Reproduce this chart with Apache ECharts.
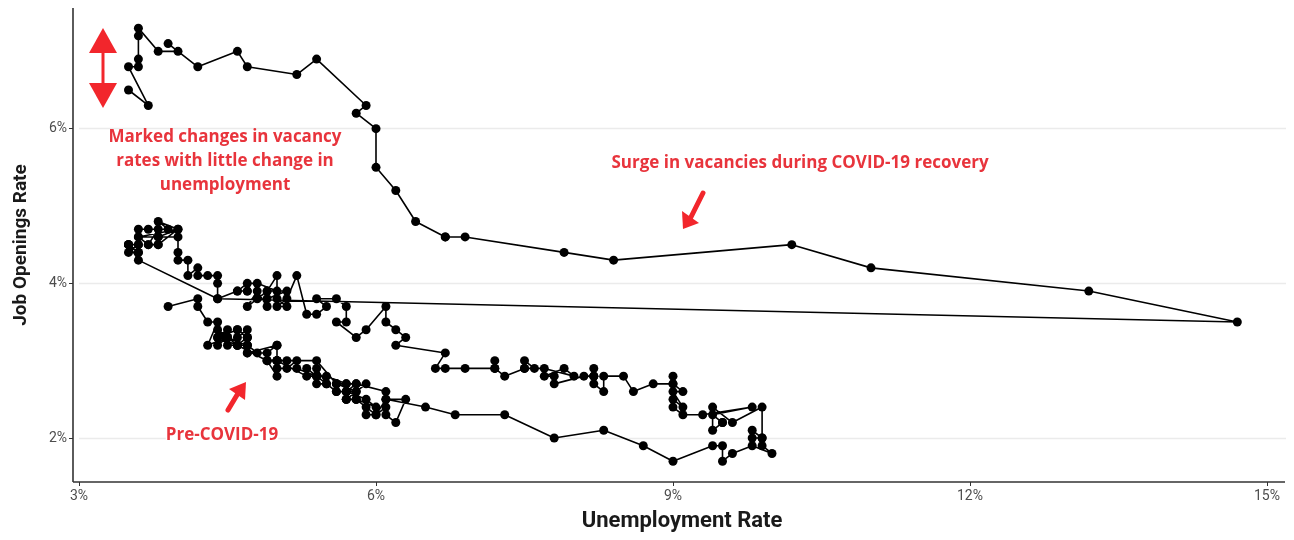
<!DOCTYPE html>
<html><head><meta charset="utf-8">
<script src="https://cdn.jsdelivr.net/npm/echarts@6/dist/echarts.min.js"></script>
<style>html,body{margin:0;padding:0;background:#fff}#c{width:1294px;height:540px}</style>
</head><body><div id="c"></div>
<script>
// Monthly points, Dec 2000 onward (unemployment rate %, job openings rate %)
const unemploymentRate = [
  3.9,
  4.2,4.2,4.3,4.4,4.3,4.5,4.6,4.9,5.0,5.3,5.5,5.7,
  5.7,5.7,5.7,5.9,5.8,5.8,5.8,5.7,5.7,5.7,5.9,6.0,
  5.8,5.9,5.9,6.0,6.1,6.3,6.2,6.1,6.1,6.0,5.8,5.7,
  5.7,5.6,5.8,5.6,5.6,5.6,5.5,5.4,5.4,5.5,5.4,5.4,
  5.3,5.4,5.2,5.2,5.1,5.0,5.0,4.9,5.0,5.0,5.0,4.9,
  4.7,4.8,4.7,4.7,4.6,4.6,4.7,4.7,4.5,4.4,4.5,4.4,
  4.6,4.5,4.4,4.5,4.4,4.6,4.7,4.6,4.7,4.7,4.7,5.0,
  5.0,4.9,5.1,5.0,5.4,5.6,5.8,6.1,6.1,6.5,6.8,7.3,
  7.8,8.3,8.7,9.0,9.4,9.5,9.5,9.6,9.8,10.0,9.9,9.9,
  9.8,9.8,9.9,9.9,9.6,9.4,9.4,9.5,9.5,9.4,9.8,9.3,
  9.1,9.0,9.0,9.1,9.0,9.1,9.0,9.0,9.0,8.8,8.6,8.5,
  8.3,8.3,8.2,8.2,8.2,8.2,8.2,8.1,7.8,7.8,7.7,7.9,
  8.0,7.7,7.5,7.6,7.5,7.5,7.3,7.2,7.2,7.2,6.9,6.7,
  6.6,6.7,6.2,6.3,6.2,6.1,6.1,5.9,5.8,5.6,5.7,5.7,
  5.6,5.4,5.5,5.4,5.3,5.2,5.1,5.0,5.1,5.0,5.0,4.9,
  5.1,4.9,4.9,4.8,4.7,4.8,4.9,5.0,4.8,4.7,4.6,4.7,
  4.7,4.6,4.4,4.4,4.4,4.3,4.2,4.2,4.1,4.1,4.0,4.0,
  4.0,3.8,3.8,3.7,3.8,3.6,3.7,3.9,3.8,4.0,3.6,3.8,
  4.0,3.8,3.7,3.6,3.6,3.5,3.6,3.5,3.6,3.5,3.6,3.5,
  3.5,3.6,4.4,14.7,13.2,11.0,10.2,8.4,7.9,6.9,6.7,6.7,
  6.4,6.2,6.0,6.0,5.8,5.9,5.4,5.2,4.7,4.6,4.2,3.9,
  4.0,3.8,3.6,3.6,3.6,3.6,3.5,3.7,3.5
];
const jobOpeningsRate = [
  3.7,
  3.8,3.7,3.5,3.5,3.2,3.3,3.2,3.0,3.0,2.8,2.8,2.7,
  2.6,2.7,2.5,2.7,2.6,2.5,2.7,2.6,2.5,2.6,2.5,2.4,
  2.5,2.4,2.3,2.3,2.5,2.5,2.2,2.3,2.4,2.3,2.5,2.5,
  2.6,2.6,2.6,2.7,2.7,2.6,2.7,2.7,2.8,2.7,2.9,2.8,
  2.9,2.8,2.9,3.0,2.9,2.9,3.0,3.0,2.8,3.0,3.2,3.1,
  3.1,3.1,3.2,3.4,3.3,3.4,3.3,3.2,3.3,3.2,3.4,3.3,
  3.2,3.2,3.4,3.3,3.3,3.4,3.3,3.2,3.2,3.3,3.1,3.2,
  3.0,3.0,3.0,3.0,3.0,2.7,2.7,2.6,2.5,2.4,2.3,2.3,
  2.0,2.1,1.9,1.7,1.9,1.9,1.7,1.8,1.9,1.8,1.9,2.0,
  2.0,2.1,2.0,2.4,2.2,2.4,2.1,2.2,2.2,2.3,2.4,2.3,
  2.3,2.4,2.5,2.4,2.6,2.6,2.7,2.8,2.7,2.7,2.6,2.8,
  2.8,2.6,2.7,2.8,2.9,2.8,2.8,2.8,2.7,2.8,2.8,2.9,
  2.8,2.9,2.9,2.9,3.0,2.9,2.8,2.9,3.0,2.9,2.9,2.9,
  2.9,3.1,3.2,3.3,3.4,3.5,3.7,3.4,3.3,3.5,3.5,3.7,
  3.8,3.8,3.7,3.6,3.6,4.1,3.8,3.7,3.7,3.8,4.1,3.9,
  3.9,3.8,3.7,3.9,3.7,3.8,3.9,3.9,4.0,4.0,3.9,3.9,
  3.9,3.9,3.8,4.0,4.1,4.1,4.1,4.2,4.1,4.3,4.3,4.4,
  4.6,4.6,4.5,4.5,4.7,4.7,4.7,4.7,4.8,4.7,4.6,4.6,
  4.7,4.5,4.5,4.6,4.5,4.5,4.4,4.4,4.5,4.5,4.4,4.5,
  4.5,4.3,3.8,3.5,3.9,4.2,4.5,4.3,4.4,4.6,4.6,4.6,
  4.8,5.2,5.5,6.0,6.2,6.3,6.9,6.7,6.8,7.0,6.8,7.1,
  7.0,7.0,7.3,7.2,6.9,6.8,6.8,6.3,6.5
];
const xTickValues = [3, 6, 9, 12, 15];
const yTickValues = [2, 4, 6];
const xTitle = 'Unemployment Rate';
const yTitle = 'Job Openings Rate';
const noteTopLeft = ['Marked changes in vacancy', 'rates with little change in', 'unemployment'];
const noteCovid = 'Surge in vacancies during COVID-19 recovery';
const notePre = 'Pre-COVID-19';

const points = unemploymentRate.map((u, i) => [u, jobOpeningsRate[i]]);
const RED = '#e8343c';
const ARROW = '#f2262c';
const noteFont = 'bold 17px "Open Sans", sans-serif';
const tickFont = '"Liberation Sans Narrow", Roboto, sans-serif';

const chart = echarts.init(document.getElementById('c'), null, {renderer: 'canvas'});
chart.setOption({
  animation: false,
  backgroundColor: '#ffffff',
  grid: {left: 79, right: -270, top: -26, bottom: 102, containLabel: false, outerBoundsMode: 'none'},
  xAxis: {
    type: 'value', min: xTickValues[0], max: 18, interval: 3, offset: 44,
    axisLine: {show: false},
    axisTick: {show: true, length: 4, lineStyle: {color: '#333', width: 1}},
    axisLabel: {formatter: v => v + '%', color: '#4d4d4d', fontSize: 14, margin: 7, fontFamily: tickFont},
    splitLine: {show: false}
  },
  yAxis: {
    type: 'value', min: yTickValues[0], max: 8, interval: 2, offset: 6,
    axisLine: {show: false},
    axisTick: {show: true, length: 4, lineStyle: {color: '#333', width: 1}},
    axisLabel: {formatter: v => v + '%', color: '#4d4d4d', fontSize: 14, margin: 6, fontFamily: tickFont},
    splitLine: {show: true, lineStyle: {color: '#ebebeb', width: 1.3}}
  },
  series: [{
    type: 'line',
    data: points,
    clip: false,
    symbol: 'circle',
    symbolSize: 9,
    itemStyle: {color: '#000'},
    lineStyle: {color: '#000', width: 1.6},
    z: 3
  }],
  graphic: [
    {type: 'rect', shape: {x: 1286, y: 0, width: 8, height: 482}, style: {fill: '#fff'}, z: 9},
    {type: 'line', shape: {x1: 73, y1: 8, x2: 73, y2: 482}, style: {stroke: '#333', lineWidth: 1.6}, z: 10},
    {type: 'line', shape: {x1: 73, y1: 482, x2: 1285, y2: 482}, style: {stroke: '#333', lineWidth: 1.6}, z: 10},
    {type: 'text', x: 682, y: 521, z: 20, style: {text: xTitle, font: 'bold 22px Roboto, sans-serif', fill: '#1a1a1a', textAlign: 'center', textVerticalAlign: 'middle'}},
    {type: 'text', x: 21, y: 245, rotation: Math.PI / 2, z: 20, style: {text: yTitle, font: 'bold 19px Roboto, sans-serif', fill: '#1a1a1a', textAlign: 'center', textVerticalAlign: 'middle'}},
    {type: 'text', x: 225, y: 137, z: 20, style: {text: noteTopLeft[0], font: noteFont, fill: RED, textAlign: 'center', textVerticalAlign: 'middle'}},
    {type: 'text', x: 225, y: 161, z: 20, style: {text: noteTopLeft[1], font: noteFont, fill: RED, textAlign: 'center', textVerticalAlign: 'middle'}},
    {type: 'text', x: 225, y: 185, z: 20, style: {text: noteTopLeft[2], font: noteFont, fill: RED, textAlign: 'center', textVerticalAlign: 'middle'}},
    {type: 'text', x: 800, y: 163, z: 20, style: {text: noteCovid, font: noteFont, fill: RED, textAlign: 'center', textVerticalAlign: 'middle'}},
    {type: 'text', x: 222, y: 435, z: 20, style: {text: notePre, font: noteFont, fill: RED, textAlign: 'center', textVerticalAlign: 'middle', backgroundColor: '#fff'}},
    {type: 'line', z: 20, shape: {x1: 103, y1: 50, x2: 103, y2: 86}, style: {stroke: ARROW, lineWidth: 3}},
    {type: 'polygon', z: 20, shape: {points: [[103, 28], [89, 53], [117, 53]]}, style: {fill: ARROW}},
    {type: 'polygon', z: 20, shape: {points: [[103, 108], [89, 83], [117, 83]]}, style: {fill: ARROW}},
    {type: 'line', z: 20, shape: {x1: 703, y1: 193, x2: 689, y2: 221}, style: {stroke: ARROW, lineWidth: 5, lineCap: 'round'}},
    {type: 'polygon', z: 20, shape: {points: [[683, 229], [682, 211], [699, 223]]}, style: {fill: ARROW}},
    {type: 'line', z: 20, shape: {x1: 228, y1: 410, x2: 240, y2: 390}, style: {stroke: ARROW, lineWidth: 5, lineCap: 'round'}},
    {type: 'polygon', z: 20, shape: {points: [[246, 382], [245, 400], [229, 389]]}, style: {fill: ARROW}}
  ]
});
</script>
</body></html>
